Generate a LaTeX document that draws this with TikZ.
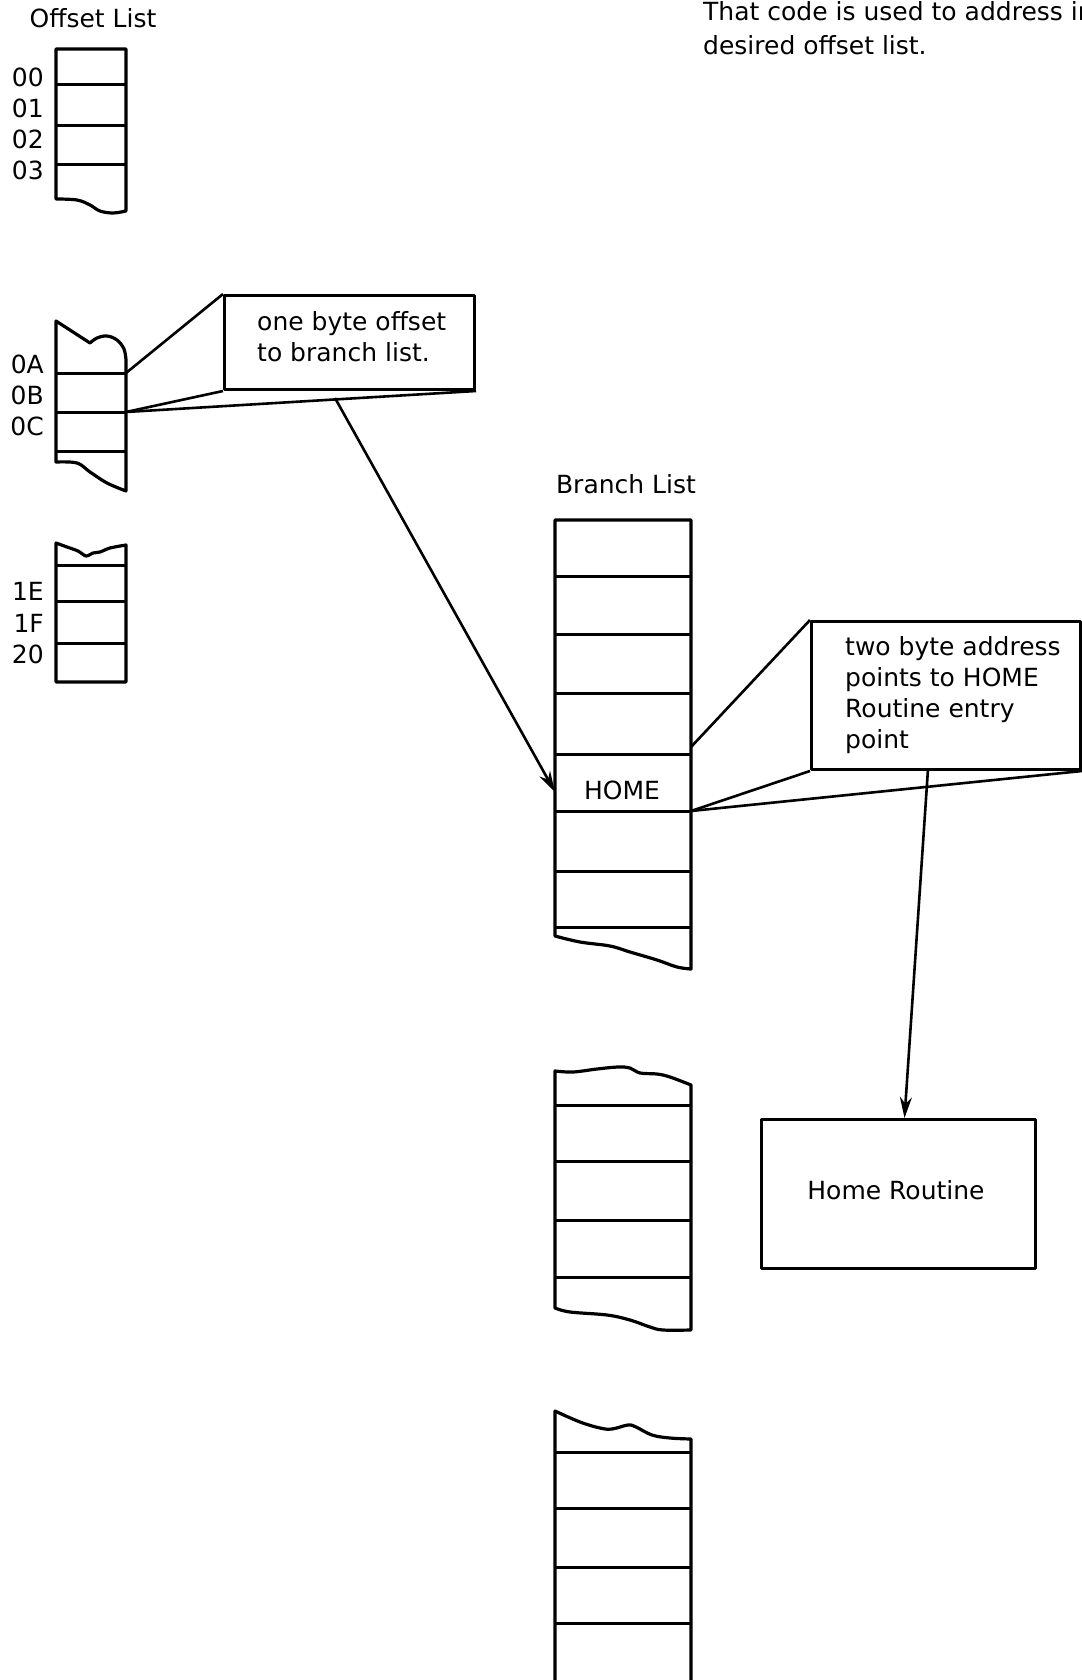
\documentclass[tikz,border=0pt]{standalone}
\usepackage{fontspec}
\setmainfont{DejaVu Sans}
\usetikzlibrary{arrows.meta}
\begin{document}
\begin{tikzpicture}[x=1pt,y=-1pt,line join=round,
  outline/.style={draw,line width=3.2pt},
  rule/.style={draw,line width=3pt},
  lead/.style={draw,line width=2.6pt},
  pointer/.style={draw,line width=2.6pt,-{Stealth[length=21pt,width=12pt]}},
  txt/.style={font=\fontsize{25}{31}\selectfont,inner sep=0pt},
  frame/.style={draw,line width=3pt,inner sep=0pt,anchor=north west}]
\useasboundingbox (0,0) rectangle (1081,1680);

% ---------- top-right text (cut by the right page edge) ----------
\node[txt,anchor=north west,align=left,font=\fontsize{25}{34}\selectfont] (note) at (703,1)
  {That code is used to address in\\desired offset list.};

% ---------- Offset List ----------
\node[txt,anchor=base] (otitle) at (93,28) {Offset List};

% block 1
\draw[outline] (56,49) -- (56,199)
  -- plot[smooth,tension=0.6] coordinates {(56,199) (77,200) (90,205) (100,211) (113,213) (126,211)}
  -- (126,49) -- cycle;
\draw[rule] (56,85) -- (126,85);
\draw[rule] (56,126) -- (126,126);
\draw[rule] (56,165) -- (126,165);
\node[txt,anchor=base east] (l00) at (44,87) {00};
\node[txt,anchor=base east] (l01) at (44,118) {01};
\node[txt,anchor=base east] (l02) at (44,149) {02};
\node[txt,anchor=base east] (l03) at (44,180) {03};

% block 2
\draw[outline] (56,321) -- (90,343)
  -- plot[smooth,tension=0.6] coordinates {(90,343) (97,338) (107,336) (117,340) (124,349) (126,360)}
  -- (126,491)
  -- plot[smooth,tension=0.6] coordinates {(126,491) (107,483) (90,472) (77,463) (56,462)}
  -- cycle;
\draw[rule] (56,373) -- (126,373);
\draw[rule] (56,412) -- (126,412);
\draw[rule] (56,451) -- (126,451);
\node[txt,anchor=base east] (l0A) at (44,373) {0A};
\node[txt,anchor=base east] (l0B) at (44,404) {0B};
\node[txt,anchor=base east] (l0C) at (44,435) {0C};
\coordinate (oA) at (126,373);
\coordinate (oC) at (126,412);

% block 3
\draw[outline] (56,682) -- (56,543)
  -- plot[smooth,tension=0.5] coordinates {(56,543) (67,547) (78,551) (86,556) (93,553) (100,552) (110,548) (126,545)}
  -- (126,682) -- cycle;
\draw[rule] (56,565) -- (126,565);
\draw[rule] (56,601) -- (126,601);
\draw[rule] (56,643) -- (126,643);
\node[txt,anchor=base east] (l1E) at (44,600) {1E};
\node[txt,anchor=base east] (l1F) at (44,632) {1F};
\node[txt,anchor=base east] (l20) at (44,663) {20};

% callout 1
\node[frame,minimum width=250pt,minimum height=94pt] (c1) at (223,294) {};
\node[txt,anchor=north west,align=left] (c1t) at (257,311) {one byte offset\\to branch list.};
\draw[lead] (oA) -- (c1.north west);
\draw[lead] (oC) -- (c1.south west);
\draw[lead] (oC) -- (c1.south east);

% ---------- Branch List ----------
\node[txt,anchor=base] (btitle) at (626,493) {Branch List};

% block 1
\draw[outline] (555,520) -- (555,936)
  -- plot[smooth,tension=0.6] coordinates {(555,936) (580,942) (610,946) (630,952) (657,960) (677,967) (691,969)}
  -- (691,520) -- cycle;
\foreach \yy in {576,634,693,754,811,871,927}
  \draw[rule] (555,\yy) -- (691,\yy);
\node[txt] (home) at (622,790) {HOME};
\coordinate (hA) at (691,747);
\coordinate (hB) at (691,811);
\coordinate (hL) at (555,792);

% block 2
\draw[outline] (555,1308) -- (555,1071)
  -- plot[smooth,tension=0.6] coordinates {(555,1071) (573,1072) (597,1069) (618,1067) (630,1068) (640,1073) (657,1074) (670,1077) (691,1085)}
  -- (691,1330)
  -- plot[smooth,tension=0.6] coordinates {(691,1330) (663,1330) (650,1327) (630,1320) (607,1315) (570,1312) (555,1308)}
  -- cycle;
\foreach \yy in {1105,1161,1220,1277}
  \draw[rule] (555,\yy) -- (691,\yy);

% block 3 (runs off the page)
\draw[outline] (555,1700) -- (555,1411)
  -- plot[smooth,tension=0.6] coordinates {(555,1411) (580,1422) (600,1428) (612,1429) (628,1425) (636,1427) (652,1435) (670,1438) (691,1439)}
  -- (691,1700);
\foreach \yy in {1452,1508,1567,1623}
  \draw[rule] (555,\yy) -- (691,\yy);

% callout 2
\node[frame,minimum width=269pt,minimum height=148pt] (c2) at (810,620) {};
\node[txt,anchor=north west,align=left] (c2t) at (845,636)
  {two byte address\\points to HOME\\Routine entry\\point};
\draw[lead] (hA) -- (c2.north west);
\draw[lead] (hB) -- (c2.south west);
\draw[lead] (hB) -- (c2.south east);

% Home Routine
\node[frame,minimum width=274pt,minimum height=149pt] (hr) at (760,1118) {};
\node[txt] (hrt) at (896,1190) {Home Routine};

% pointers
\coordinate (p1) at (335,398);
\draw[pointer] (p1) -- (hL);
\coordinate (p2) at (928,769);
\draw[pointer] (p2) -- ([xshift=6pt]hr.north);
\end{tikzpicture}
\end{document}
